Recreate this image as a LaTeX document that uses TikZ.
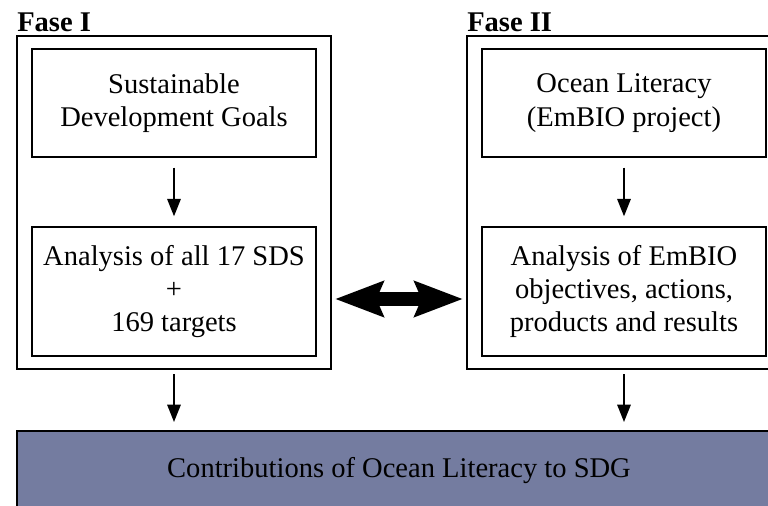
\documentclass[tikz,border=0pt]{standalone}
\usepackage{fontspec}
\setmainfont{Liberation Serif}
\usetikzlibrary{arrows.meta}
\usetikzlibrary{positioning}

\definecolor{sdgblue}{RGB}{116,124,160}

\begin{document}
\begin{tikzpicture}[x=0.75pt,y=-0.75pt,
  every node/.style={font=\fontsize{21.4}{25}\selectfont,align=center,inner sep=0pt},
  phase/.style={draw,line width=2pt,minimum width=235.5pt,minimum height=249.75pt},
  step box/.style={draw,line width=2pt,minimum width=213pt,minimum height=81pt},
  title/.style={font=\fontsize{21.4}{25}\selectfont\bfseries,anchor=base west},
  flow/.style={line width=1.5pt,-{Triangle[length=13pt,width=10pt]}},
  link/.style={line width=10pt,{Stealth[length=36pt,width=26pt,inset=5pt]}-{Stealth[length=36pt,width=26pt,inset=5pt]},shorten <=2pt,shorten >=2pt}]
\useasboundingbox (0,0) rectangle (768,506);
\clip (0,0) rectangle (768,506);

\node[phase] (frameL) at (174,202.5) {};
\node[phase] (frameR) at (624,202.5) {};
\node[title] (faseL) at (17,32) {Fase I};
\node[title] (faseR) at (467,32) {Fase II};

\node[step box] (sdg) at (174,103) {Sustainable\\Development Goals};
\node[step box,minimum height=96.75pt] (sds) at (174,291.5) {Analysis of all 17 SDS\\+\\169 targets};
\node[step box] (ocean) at (624,103) {Ocean Literacy\\(EmBIO project)};
\node[step box,minimum height=96.75pt] (embio) at (624,291.5) {Analysis of EmBIO\\objectives, actions,\\products and results};

\node[draw,line width=1.5pt,fill=sdgblue,minimum width=573pt,minimum height=60pt] (goal) at (399,471) {Contributions of Ocean Literacy to SDG};

\draw[flow,shorten <=7pt,shorten >=7pt] (sdg) -- (sds);
\draw[flow,shorten <=7pt,shorten >=7pt] (ocean) -- (embio);
\draw[flow,shorten <=3pt,shorten >=6pt] (frameL.south) -- (frameL.south |- goal.north);
\draw[flow,shorten <=3pt,shorten >=6pt] (frameR.south) -- (frameR.south |- goal.north);

\coordinate (mid) at (399,299);
\draw[link] (frameL.east |- mid) -- (frameR.west |- mid);

\end{tikzpicture}
\end{document}
